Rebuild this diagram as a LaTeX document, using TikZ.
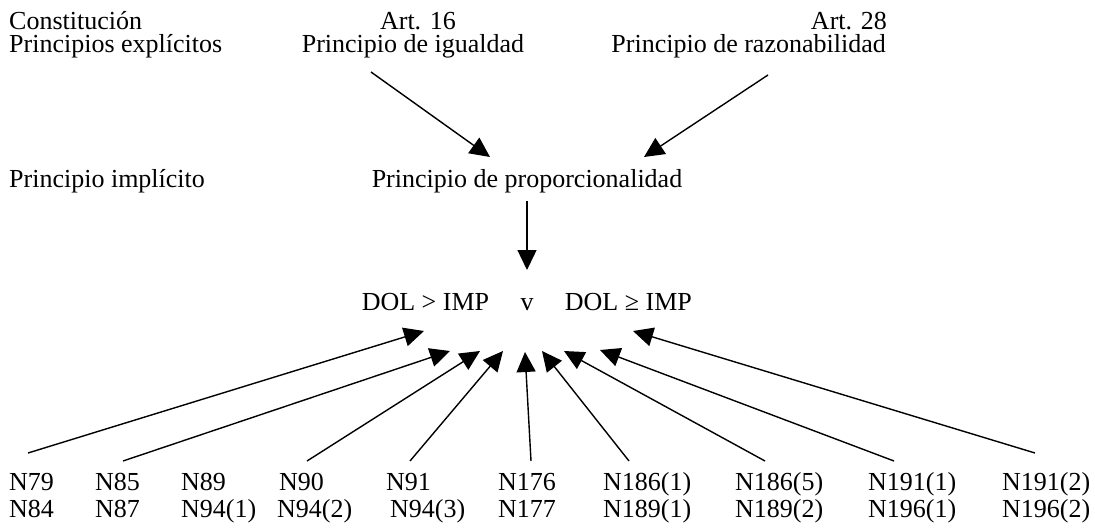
\documentclass[tikz,border=0pt]{standalone}
\usepackage{fontspec}
\setmainfont{Liberation Serif}
\usetikzlibrary{arrows.meta,calc}
\begin{document}
\begin{tikzpicture}[x=1pt,y=-1pt,
  lbl/.style={inner sep=0pt, font=\fontsize{26}{28}\selectfont},
  arr/.style={line width=1.4pt, -{Triangle[length=20pt,width=19pt]}}]
\useasboundingbox (0,0) rectangle (1095,530);
% top
\node[lbl,anchor=base west] (const)  at (9,29) {Constitución};
\node[lbl,anchor=base west] (explic) at (9,52) {Principios explícitos};
\node[lbl,anchor=base] (art16) at (418,29) {Art. 16};
\node[lbl,anchor=base] (igual) at (413,52) {Principio de igualdad};
\node[lbl,anchor=base east] (art28) at (887,29) {Art. 28};
\node[lbl,anchor=base east] (razon) at (886,52) {Principio de razonabilidad};
% middle
\node[lbl,anchor=base west] (implic) at (9,187) {Principio implícito};
\node[lbl,anchor=base] (prop) at (527,187) {Principio de proporcionalidad};
\node[lbl,anchor=base] (vor) at (527,310) {v};
\node[lbl,anchor=base east] (dolA) at ($(vor.base west)+(-31,0)$) {DOL > IMP};
\node[lbl,anchor=base west] (dolB) at ($(vor.base east)+(31,0)$) {DOL ≥ IMP};
% bottom labels
\foreach \n/\x/\ta in {1/9/N79, 2/95/N85, 3/181/N89, 4/279/N90, 5/386/N91, 6/498/N176, 7/603/N186(1), 8/735/N186(5), 9/868/N191(1), 10/1002/N191(2)}{
  \node[lbl,anchor=base west] (t\n) at (\x,490) {\ta};
}
\node[lbl,anchor=base west] (b1) at (9,517) {N84};
\node[lbl,anchor=base west] (b2) at (95,517) {N87};
\node[lbl,anchor=base west] (b3) at (181,517) {N94(1)};
\node[lbl,anchor=base west] (b4) at (277,517) {N94(2)};
\node[lbl,anchor=base west] (b5) at (390,517) {N94(3)};
\node[lbl,anchor=base west] (b6) at (498,517) {N177};
\node[lbl,anchor=base west] (b7) at (603,517) {N189(1)};
\node[lbl,anchor=base west] (b8) at (735,517) {N189(2)};
\node[lbl,anchor=base west] (b9) at (868,517) {N196(1)};
\node[lbl,anchor=base west] (b10) at (1002,517) {N196(2)};
% top arrows
\draw[arr] ($(igual.base)+(-42,20)$) -- ($(prop.base)+(-37,-30)$);
\draw[arr] ($(razon.base east)+(-118,23)$) -- ($(prop.base)+(117,-30)$);
\draw[arr] ($(prop.base)+(0,14)$) -- ($(vor.base)+(0,-40)$);
% bottom arrows
\draw[arr] ($(t1.base west)+(19,-37)$) -- ($(vor.base)+(-103,21)$);
\draw[arr] ($(t2.base west)+(28,-29)$) -- ($(vor.base)+(-77,41)$);
\draw[arr] ($(t4.base west)+(28,-29)$) -- ($(vor.base)+(-47,41)$);
\draw[arr] ($(t5.base west)+(24,-29)$) -- ($(vor.base)+(-24,41)$);
\draw[arr] ($(t6.base west)+(33,-29)$) -- ($(vor.base)+(-2,42)$);
\draw[arr] ($(t7.base west)+(26,-29)$) -- ($(vor.base)+(15,41)$);
\draw[arr] ($(t8.base west)+(30,-29)$) -- ($(vor.base)+(37,41)$);
\draw[arr] ($(t9.base west)+(26,-29)$) -- ($(vor.base)+(73,40)$);
\draw[arr] ($(t10.base west)+(33,-37)$) -- ($(vor.base)+(106,21)$);
\end{tikzpicture}
\end{document}
